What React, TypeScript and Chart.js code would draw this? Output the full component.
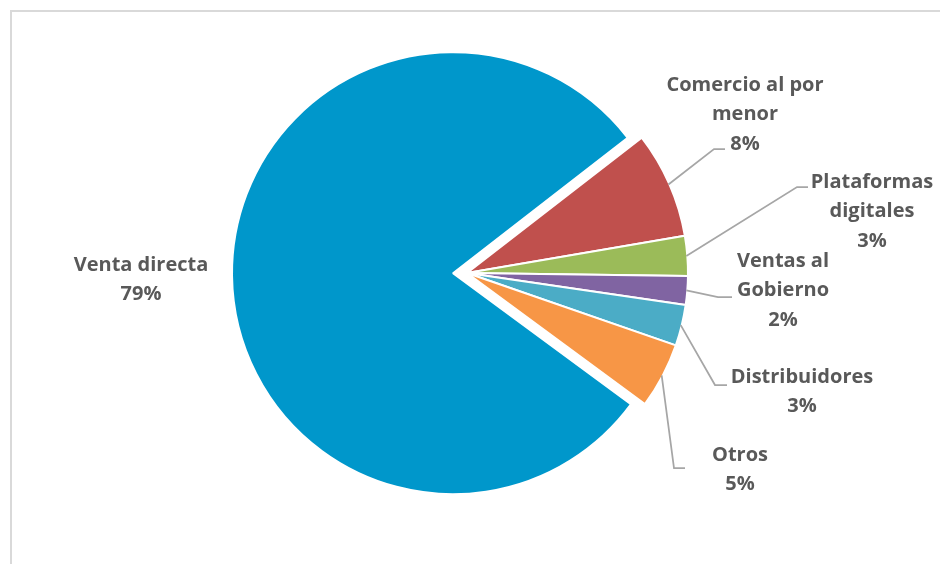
import React, { useEffect, useRef } from 'react';
import { Chart, registerables } from 'chart.js';

Chart.register(...registerables);

// ---- data ----
const categories = [
  'Venta directa',
  'Comercio al por\nmenor',
  'Plataformas\ndigitales',
  'Ventas al\nGobierno',
  'Distribuidores',
  'Otros',
];
const shares = [79.4, 7.8, 2.9, 2.1, 3.0, 4.8];
const colors = ['#0097CB', '#C0504D', '#9BBB59', '#8064A2', '#4BACC6', '#F79646'];
// explosion distance (px) of each slice along its mid-angle
const explode = [14, 0, 0, 0, 0, 0];

// ---- label layout (positions only) ----
type LabelPos = { x: number; y: number; elbow?: [number, number]; end?: [number, number] };
const labelLayout: LabelPos[] = [
  { x: 141, y: 265 },
  { x: 745, y: 85, elbow: [714, 149], end: [725, 149] },
  { x: 872, y: 182, elbow: [797, 187], end: [808, 187] },
  { x: 783, y: 261, elbow: [718, 297], end: [732, 297] },
  { x: 802, y: 377, elbow: [715, 385], end: [727, 385] },
  { x: 740, y: 455, elbow: [674, 468], end: [685, 468] },
];

const LINE_H = 29.5;
const FONT = 'bold 20px "Open Sans", "Liberation Sans", sans-serif';

const explodePlugin = {
  id: 'explodeSlices',
  afterDatasetsUpdate(chart: any) {
    const meta = chart.getDatasetMeta(0);
    meta.data.forEach((arc: any, i: number) => {
      const d = explode[i];
      if (!d) return;
      const mid = (arc.startAngle + arc.endAngle) / 2;
      arc.x += Math.cos(mid) * d;
      arc.y += Math.sin(mid) * d;
    });
  },
};

const labelPlugin = {
  id: 'pieLabels',
  beforeDraw(chart: any) {
    const ctx = chart.ctx;
    ctx.save();
    ctx.fillStyle = '#ffffff';
    ctx.fillRect(0, 0, chart.width, chart.height);
    ctx.strokeStyle = '#d9d9d9';
    ctx.lineWidth = 2;
    ctx.beginPath();
    ctx.moveTo(11, chart.height);
    ctx.lineTo(11, 11);
    ctx.lineTo(chart.width, 11);
    ctx.stroke();
    ctx.restore();
  },
  afterDatasetsDraw(chart: any) {
    const ctx = chart.ctx;
    const meta = chart.getDatasetMeta(0);
    const values: number[] = chart.data.datasets[0].data;
    const total = values.reduce((a, b) => a + b, 0);
    ctx.save();
    meta.data.forEach((arc: any, i: number) => {
      const p = arc.getProps(['startAngle', 'endAngle', 'outerRadius', 'x', 'y'], true);
      const mid = (p.startAngle + p.endAngle) / 2;
      const lay = labelLayout[i];
      if (lay.elbow && lay.end) {
        const sx = p.x + Math.cos(mid) * (p.outerRadius - 1);
        const sy = p.y + Math.sin(mid) * (p.outerRadius - 1);
        ctx.strokeStyle = '#a6a6a6';
        ctx.lineWidth = 1.75;
        ctx.beginPath();
        ctx.moveTo(sx, sy);
        ctx.lineTo(lay.elbow[0], lay.elbow[1]);
        ctx.lineTo(lay.end[0], lay.end[1]);
        ctx.stroke();
      }
      const lines = String(chart.data.labels[i]).split('\n');
      lines.push(Math.round((values[i] / total) * 100) + '%');
      ctx.font = FONT;
      ctx.fillStyle = '#595959';
      ctx.textAlign = 'center';
      ctx.textBaseline = 'middle';
      lines.forEach((t, k) => ctx.fillText(t, lay.x, lay.y + k * LINE_H));
    });
    ctx.restore();
  },
};

export default function App() {
  const ref = useRef<HTMLCanvasElement | null>(null);
  useEffect(() => {
    if (!ref.current) return;
    const chart = new Chart(ref.current, {
      type: 'pie',
      data: {
        labels: categories,
        datasets: [
          {
            data: shares,
            backgroundColor: colors,
            borderColor: '#ffffff',
            borderWidth: 2,
          } as any,
        ],
      },
      options: {
        responsive: false,
        animation: false,
        rotation: 126.4,
        radius: 221,
        layout: { padding: { left: 0, right: 6, top: 0, bottom: 18 } },
        plugins: {
          legend: { display: false },
          tooltip: { enabled: false },
        },
      } as any,
      plugins: [explodePlugin, labelPlugin],
    });
    return () => chart.destroy();
  }, []);
  return (
    <div style={{ position: 'absolute', left: 0, top: 0, width: 940, height: 564 }}>
      <canvas ref={ref} width={940} height={564} style={{ display: 'block' }} />
    </div>
  );
}
